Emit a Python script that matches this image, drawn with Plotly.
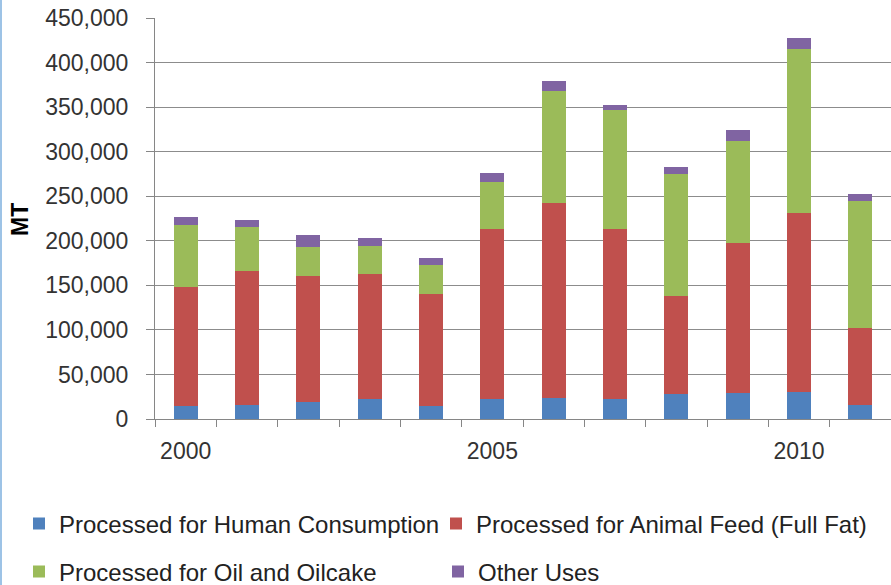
import plotly.graph_objects as go

years = [2000, 2001, 2002, 2003, 2004, 2005, 2006, 2007, 2008, 2009, 2010, 2011]
human = [15000, 16000, 19000, 22000, 15000, 22000, 23500, 22000, 27700, 29000, 30700, 16000]
animal = [133400, 149700, 142000, 140700, 125000, 191000, 218500, 191000, 110700, 168500, 200100, 86500]
oil = [69000, 50100, 32000, 31800, 33000, 53000, 126500, 134000, 136900, 114800, 184000, 142500]
other = [9000, 7500, 14000, 8600, 7500, 10000, 10500, 5700, 7100, 11600, 12700, 7100]

series_names = ["Processed for Human Consumption", "Processed for Animal Feed (Full Fat)",
                "Processed for Oil and Oilcake", "Other Uses"]
series_vals = [human, animal, oil, other]
colors = ["#4F81BD", "#C0504D", "#9BBB59", "#8064A2"]

x_ticks = [2000, 2005, 2010]
y_ticks = [0, 50000, 100000, 150000, 200000, 250000, 300000, 350000, 400000, 450000]

FONT = "Liberation Sans"
FS = 23
LFS = 24

W, H = 891, 585
ml, mr, mt, mb = 155, 0, 18, 166
pw = W - ml - mr
ph = H - mt - mb

legend_ids = ["legend", "legend2", "legend3", "legend4"]
# legend anchor positions in pixels (x of legend box, y centre of row)
legend_px = [(19, 524), (436, 524), (19, 572), (438, 572)]

fig = go.Figure()
for name, vals, c, lid in zip(series_names, series_vals, colors, legend_ids):
    fig.add_trace(go.Bar(x=years, y=vals, name=name, legend=lid,
                         marker=dict(color=c, line=dict(width=0))))

legend_layouts = {}
for lid, (lx, ly) in zip(legend_ids, legend_px):
    legend_layouts[lid] = dict(
        orientation="h", x=(lx - ml) / pw, xanchor="left",
        y=(H - mb - ly) / ph, yanchor="middle",
        font=dict(family=FONT, size=LFS, color="#222222"),
        bgcolor="rgba(0,0,0,0)", itemwidth=30,
    )

fig.update_layout(
    width=W, height=H,
    barmode="stack", bargap=0.61,
    plot_bgcolor="white", paper_bgcolor="white",
    margin=dict(l=ml, r=mr, t=mt, b=mb, autoexpand=False),
    font=dict(family=FONT, size=FS, color="#333333"),
    showlegend=True,
    xaxis=dict(
        range=[1999.5, 2011.5],
        tickvals=x_ticks, ticktext=[str(v) for v in x_ticks],
        ticks="outside", ticklen=11, tickcolor="rgba(0,0,0,0)",
        showgrid=False, zeroline=False,
        showline=True, linecolor="#868686", linewidth=1,
        tickfont=dict(family=FONT, size=FS, color="#333333"),
        minor=dict(tickvals=[1999.5 + i for i in range(13)], ticks="outside",
                   ticklen=7, tickcolor="#868686", tickwidth=1, showgrid=False),
    ),
    yaxis=dict(
        range=[0, 450000],
        tickvals=y_ticks, ticktext=[f"{v:,}" for v in y_ticks],
        ticks="outside", ticklen=8, tickcolor="#868686",
        ticklabelstandoff=13,
        showgrid=True, gridcolor="#8C8C8C", gridwidth=1,
        zeroline=False,
        showline=True, linecolor="#868686", linewidth=1,
        tickfont=dict(family=FONT, size=FS, color="#333333"),
    ),
    annotations=[dict(text="<b>MT</b>", xref="paper", yref="paper",
                      x=(20 - ml) / pw, y=(H - mb - 220) / ph, textangle=-90, showarrow=False,
                      font=dict(family=FONT, size=FS, color="#000000"),
                      xanchor="center", yanchor="middle")],
    shapes=[dict(type="line", xref="paper", yref="paper",
                 x0=(1 - ml) / pw, x1=(1 - ml) / pw, y0=-mb / ph, y1=(H - mt) / ph,
                 line=dict(color="#9DC3E6", width=2))],
    **legend_layouts,
)

fig.write_html("out.html", config={"displayModeBar": False},
               post_script="document.body.style.margin='0';")
